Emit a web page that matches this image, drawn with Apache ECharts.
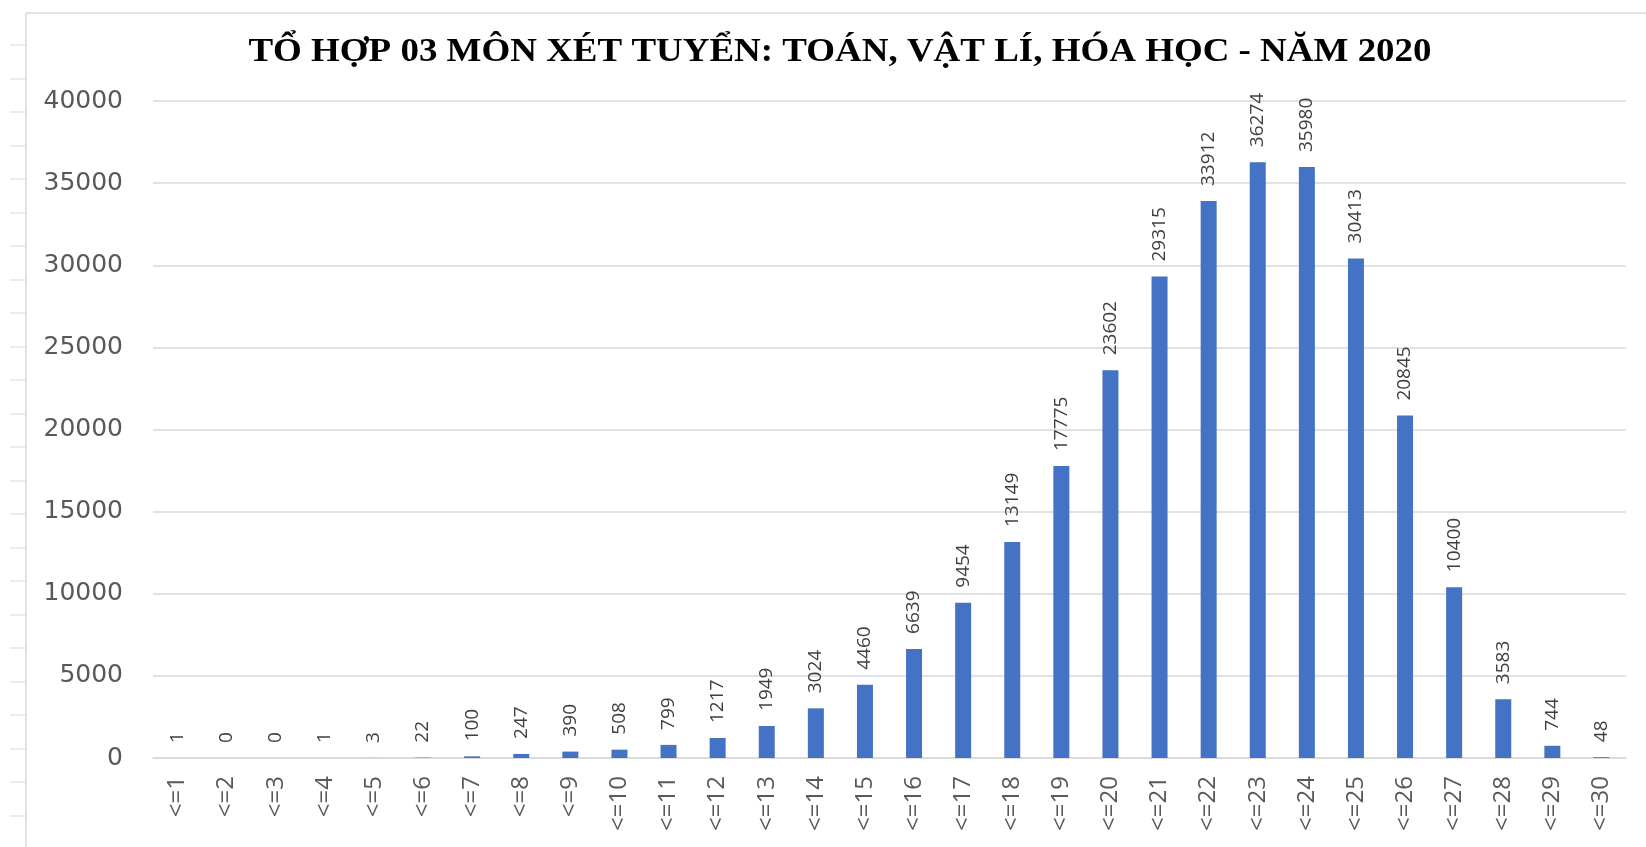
<!DOCTYPE html>
<html>
<head>
<meta charset="utf-8">
<style>
html,body{margin:0;padding:0;background:#fff;}
#main{width:1646px;height:847px;}
</style>
<script src="https://cdn.jsdelivr.net/npm/echarts@6/dist/echarts.min.js"></script>
</head>
<body>
<div id="main"></div>
<script>
// du lieu
var categories = ['<=1','<=2','<=3','<=4','<=5','<=6','<=7','<=8','<=9','<=10',
	'<=11','<=12','<=13','<=14','<=15','<=16','<=17','<=18','<=19','<=20',
	'<=21','<=22','<=23','<=24','<=25','<=26','<=27','<=28','<=29','<=30'];
var values = [1, 0, 0, 1, 3, 22, 100, 247, 390, 508,
	799, 1217, 1949, 3024, 4460, 6639, 9454, 13149, 17775, 23602,
	29315, 33912, 36274, 35980, 30413, 20845, 10400, 3583, 744, 48];
var yTicks = [0, 5000, 10000, 15000, 20000, 25000, 30000, 35000, 40000];
var titleText = 'TỔ HỢP 03 MÔN XÉT TUYỂN: TOÁN, VẬT LÍ, HÓA HỌC - NĂM 2020';

var sans = '"Open Sans", sans-serif';

var myChart = echarts.init(document.getElementById('main'));

// vien trang tinh + tieu de (keo gian ngang nhu anh goc)
var deco = [
	{type:'line', shape:{x1:26,y1:13,x2:1646,y2:13}, style:{stroke:'#d9d9d9',lineWidth:1.5}},
	{type:'line', shape:{x1:26,y1:13,x2:26,y2:847}, style:{stroke:'#d9d9d9',lineWidth:1.5}},
	{type:'text', x:840, y:52, scaleX:1.12,
		style:{text:titleText, fill:'#000', align:'center', verticalAlign:'middle',
			font:'bold 33px "Liberation Serif", serif'}}
];
for (var y = 45; y < 847; y += 33.5) {
	deco.push({type:'line', shape:{x1:10,y1:Math.round(y),x2:26,y2:Math.round(y)}, style:{stroke:'#d9d9d9',lineWidth:1}});
}

var option = {
	backgroundColor: '#fff',
	animation: false,
	graphic: deco,
	grid: {
		left: 153,
		right: 20,
		top: 101,
		bottom: 89
	},
	xAxis: {
		type: 'category',
		data: categories,
		axisLine: {lineStyle: {color: '#d9d9d9', width: 1.5}},
		axisTick: {show: false},
		axisLabel: {
			rotate: 90,
			margin: 18,
			interval: 0,
			color: '#595959',
			fontSize: 24,
			fontFamily: sans
		}
	},
	yAxis: {
		type: 'value',
		min: yTicks[0],
		max: yTicks[yTicks.length - 1],
		interval: 5000,
		axisLine: {show: false},
		axisTick: {show: false},
		splitLine: {lineStyle: {color: '#d9d9d9', width: 1.5}},
		axisLabel: {
			margin: 30,
			color: '#595959',
			fontSize: 25,
			fontFamily: '"DejaVu Sans", sans-serif',
			formatter: function (v) { return String(v); }
		}
	},
	series: [{
		type: 'bar',
		data: values,
		barWidth: 16,
		itemStyle: {color: '#4472c4'},
		label: {
			show: true,
			position: 'top',
			rotate: 90,
			align: 'left',
			verticalAlign: 'middle',
			distance: 15,
			color: '#404040',
			fontSize: 19,
			fontFamily: sans
		}
	}]
};

myChart.setOption(option);
</script>
</body>
</html>
